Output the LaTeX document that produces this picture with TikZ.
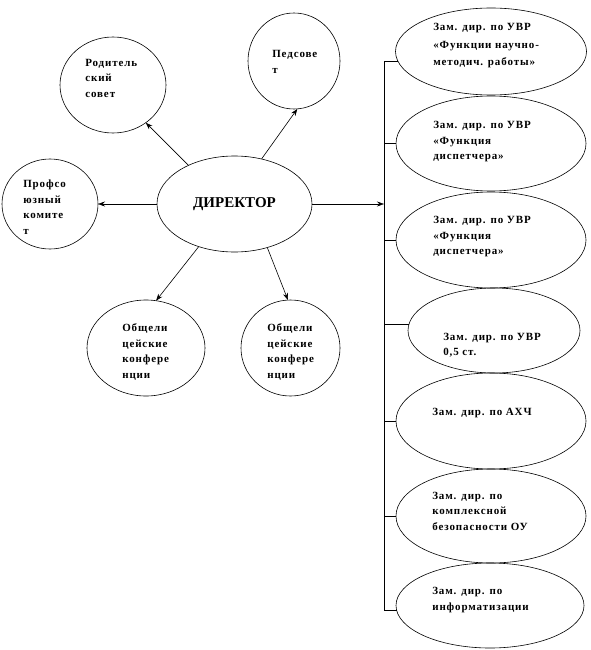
\documentclass[tikz,border=0pt]{standalone}
\usepackage{fontspec}
\setmainfont{Liberation Serif}
\usetikzlibrary{arrows.meta,shapes.geometric}
\tikzset{
	unit/.style={ellipse, draw, inner sep=0pt, outer sep=0pt},
	lbl/.style={align=left, anchor=west, inner sep=0pt, font=\fontsize{11}{15.5}\selectfont\bfseries\addfontfeatures{LetterSpace=8}}
}

\begin{document}
\begin{tikzpicture}[>={Stealth[length=7pt,width=5pt]}, x=1pt, y=-1pt, line width=0.6pt]
		\useasboundingbox (0,0) rectangle (590,650);

		% director and councils
		\node[unit, minimum width=155, minimum height=96] (dir) at (234.5,204) {};
		\node[font=\fontsize{15}{18}\selectfont\bfseries] (dirT) at (dir.center) {ДИРЕКТОР};

		\node[unit, minimum width=106, minimum height=96] (rod) at (113,85) {};
		\node[unit, minimum width=92, minimum height=96] (ped) at (294,61) {};
		\node[unit, minimum width=96, minimum height=90] (prof) at (50,204) {};
		\node[unit, minimum width=118, minimum height=96] (obs1) at (146,348) {};
		\node[unit, minimum width=99, minimum height=96] (obs2) at (290.5,348) {};

		\node[lbl] (rodT) at (85,78) {Родитель\\ский\\совет};
		\node[lbl] (pedT) at (272,62) {Педсове\\т};
		\node[lbl] (profT) at (23,207) {Профсо\\юзный\\комите\\т};
		\node[lbl] (obs1T) at (122,352) {Общели\\цейские\\конфере\\нции};
		\node[lbl] (obs2T) at (267,352) {Общели\\цейские\\конфере\\нции};

		\draw[->] (dir.140) -- (rod.-49);
		\draw[->] (dir.59) -- (ped.-86);
		\draw[->] (dir.west) -- (prof.east);
		\draw[->] (dir.-130) -- (obs1.78);
		\draw[->] (dir.-53) -- (obs2.93);

		% deputies
		\node[unit, minimum width=191, minimum height=87] (e1) at (491,51.5) {};
		\node[unit, minimum width=190, minimum height=95] (e2) at (491,143.5) {};
		\node[unit, minimum width=190, minimum height=96] (e3) at (491,240) {};
		\node[unit, minimum width=172, minimum height=85] (e4) at (494,330.5) {};
		\node[unit, minimum width=190, minimum height=96] (e5) at (491,421) {};
		\node[unit, minimum width=190, minimum height=94] (e6) at (491,516) {};
		\node[unit, minimum width=188, minimum height=85] (e7) at (490,605.5) {};

		\node[lbl, font=\fontsize{11}{17.5}\selectfont\bfseries\addfontfeatures{LetterSpace=8}] (e1T) at (433,46) {Зам. дир. по УВР\\«Функции научно-\\методич. работы»};
		\node[lbl] (e2T) at (433,142) {Зам. дир. по УВР\\«Функция\\диспетчера»};
		\node[lbl] (e3T) at (433,237) {Зам. дир. по УВР\\«Функция\\диспетчера»};
		\node[lbl] (e4T) at (443,345) {Зам. дир. по УВР\\0,5 ст.};
		\node[lbl] (e5T) at (432,413) {Зам. дир. по АХЧ};
		\node[lbl] (e6T) at (432,511) {Зам. дир. по\\комплексной\\безопасности ОУ};
		\node[lbl] (e7T) at (432,600) {Зам. дир. по\\информатизации};

		\coordinate (bus) at (384,204);
		\draw[->] (dir.east) -- (bus);
		\draw (e1.186 -| bus) -- (e7.183 -| bus);
		\foreach \e/\a in {e1/186,e2/180,e3/180,e4/176,e5/180,e6/180,e7/183} {
			\draw (\e.\a -| bus) -- (\e.\a);
		}
	\end{tikzpicture}
\end{document}
